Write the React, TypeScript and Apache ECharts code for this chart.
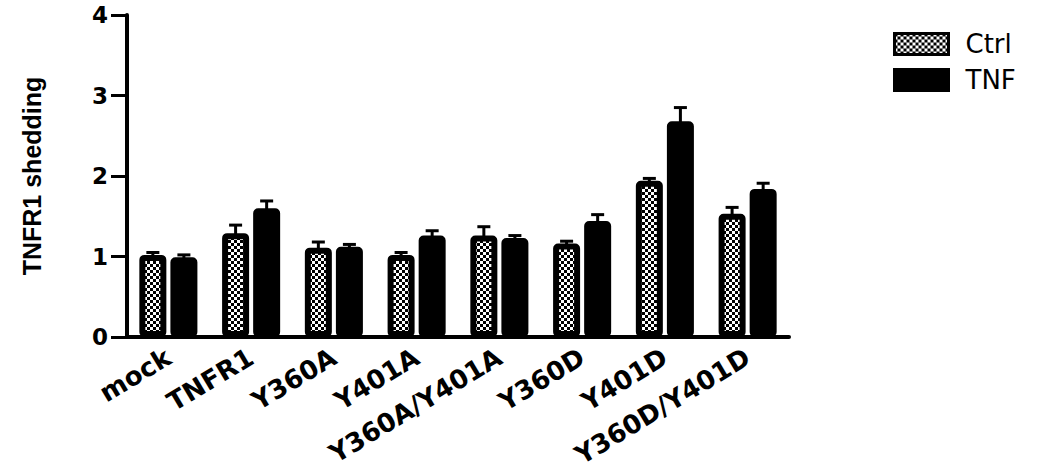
import React, { useEffect, useRef } from "react";
import * as echarts from "echarts";

const categories = ["mock", "TNFR1", "Y360A", "Y401A", "Y360A/Y401A", "Y360D", "Y401D", "Y360D/Y401D"];
const ctrlValues = [1.02, 1.29, 1.11, 1.02, 1.26, 1.16, 1.94, 1.53];
const ctrlErrors = [0.03, 0.1, 0.07, 0.03, 0.11, 0.03, 0.03, 0.08];
const tnfValues = [0.99, 1.6, 1.12, 1.26, 1.23, 1.44, 2.68, 1.84];
const tnfErrors = [0.03, 0.09, 0.03, 0.06, 0.03, 0.08, 0.17, 0.07];
const yTicks = [0, 1, 2, 3, 4];
const seriesNames = ["Ctrl", "TNF"];
const yTitle = "TNFR1 shedding";

const BAR_W = 27;
const BAR_GAP = 0.15;
const OFFSET = (BAR_W + BAR_W * BAR_GAP) / 2;

function makeChecker(): HTMLCanvasElement {
  const c = document.createElement("canvas");
  c.width = 6;
  c.height = 6;
  const ctx = c.getContext("2d")!;
  ctx.fillStyle = "#ffffff";
  ctx.fillRect(0, 0, 6, 6);
  ctx.fillStyle = "#000000";
  ctx.fillRect(0, 0, 3, 3);
  ctx.fillRect(3, 3, 3, 3);
  return c;
}

export default function App() {
  const ref = useRef<HTMLDivElement>(null);
  useEffect(() => {
    if (!ref.current) return;
    const chart = echarts.init(ref.current, undefined, { renderer: "svg" });
    const checker = makeChecker();
    const errData = (vals: number[], errs: number[]) => vals.map((v, i) => [i, v, errs[i]]);
    const errSeries = (name: string, vals: number[], errs: number[], off: number) => ({
      type: "custom",
      name: name + "-err",
      data: errData(vals, errs),
      z: 1,
      renderItem: (params: any, api: any) => {
        const idx = api.value(0);
        const v = api.value(1);
        const e = api.value(2);
        const x = api.coord([idx, 0])[0] + off;
        const y1 = api.coord([idx, v])[1] + 2;
        const y2 = api.coord([idx, v + e])[1];
        return {
          type: "group",
          children: [
            { type: "line", shape: { x1: x, y1, x2: x, y2 }, style: { stroke: "#000", lineWidth: 3 } },
            { type: "line", shape: { x1: x - 6.5, y1: y2, x2: x + 6.5, y2 }, style: { stroke: "#000", lineWidth: 3 } },
          ],
        };
      },
    });
    chart.setOption({
      animation: false,
      backgroundColor: "#ffffff",
      grid: { left: 127, right: 249, top: 15, bottom: 138, containLabel: false },
      legend: {
        data: seriesNames,
        orient: "vertical",
        left: 888,
        top: 26,
        icon: "rect",
        itemWidth: 54,
        itemHeight: 21,
        itemGap: 10,
        itemStyle: { borderWidth: 3, borderColor: "#000" },
        textStyle: { fontFamily: "DejaVu Sans", fontSize: 26, color: "#000", padding: [0, 0, 0, 12] },
      },
      xAxis: {
        type: "category",
        data: categories,
        axisLine: { lineStyle: { color: "#000", width: 4 } },
        axisTick: { alignWithLabel: true, length: 9, lineStyle: { color: "#000", width: 4 } },
        axisLabel: {
          rotate: 31,
          margin: 18,
          interval: 0,
          fontFamily: "DejaVu Sans",
          fontWeight: "bold",
          fontSize: 26,
          color: "#000",
        },
      },
      yAxis: {
        type: "value",
        min: yTicks[0],
        max: yTicks[yTicks.length - 1],
        interval: 1,
        name: yTitle,
        nameLocation: "middle",
        nameRotate: 90,
        nameGap: 83,
        nameTextStyle: { fontFamily: "Liberation Sans", fontWeight: "bold", fontSize: 25, color: "#000" },
        axisLine: { show: true, lineStyle: { color: "#000", width: 4 } },
        axisTick: { show: true, length: 16, lineStyle: { color: "#000", width: 3 } },
        splitLine: { show: false },
        axisLabel: {
          margin: 19,
          fontFamily: "DejaVu Sans",
          fontWeight: "bold",
          fontSize: 23,
          color: "#000",
        },
      },
      series: [
        {
          type: "bar",
          name: seriesNames[0],
          data: ctrlValues,
          barWidth: BAR_W,
          barGap: BAR_GAP * 100 + "%",
          z: 2,
          itemStyle: {
            color: { image: checker, repeat: "repeat" },
            borderColor: "#000",
            borderWidth: 6,
            borderRadius: 2,
          },
        },
        {
          type: "bar",
          name: seriesNames[1],
          data: tnfValues,
          barWidth: BAR_W,
          z: 2,
          itemStyle: { color: "#000", borderColor: "#000", borderWidth: 6, borderRadius: 2 },
        },
        errSeries(seriesNames[0], ctrlValues, ctrlErrors, -OFFSET),
        errSeries(seriesNames[1], tnfValues, tnfErrors, OFFSET),
      ],
    });
    return () => chart.dispose();
  }, []);
  return <div ref={ref} style={{ width: 1038, height: 475, position: "absolute", left: 0, top: 0 }} />;
}
